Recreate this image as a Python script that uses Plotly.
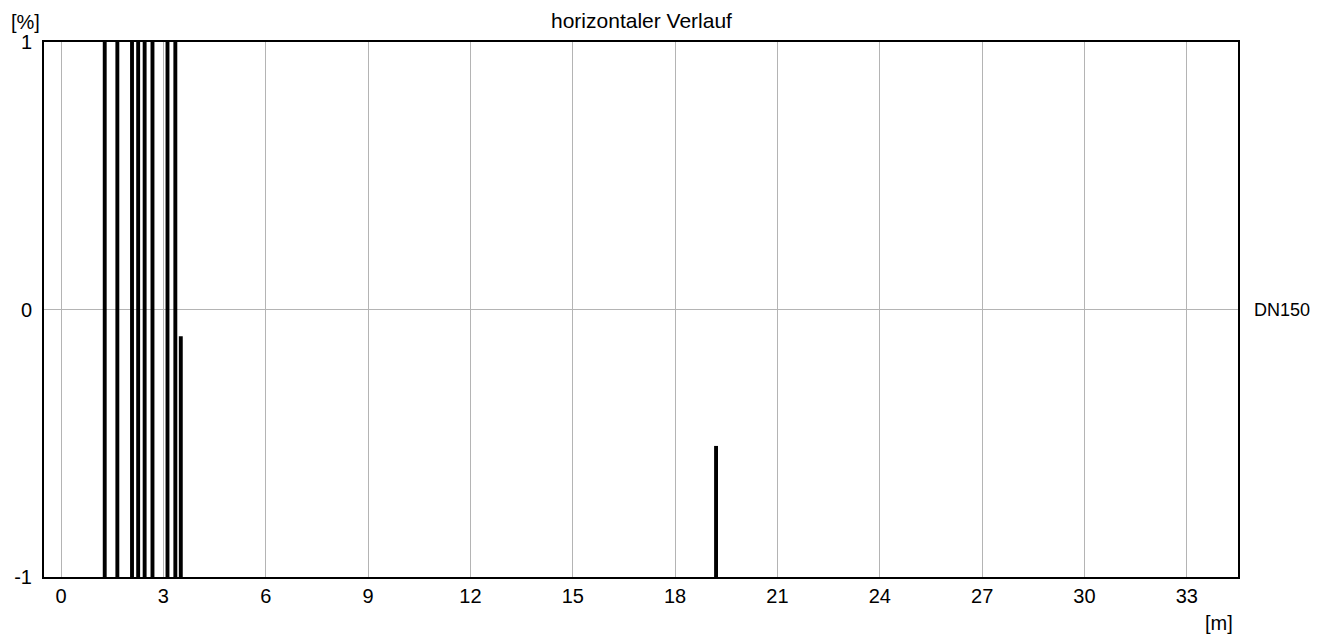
import plotly.graph_objects as go

# Data: positions [m] of the vertical spikes and their top values [%]
spike_x = [1.28, 1.65, 2.08, 2.26, 2.45, 2.68, 3.12, 3.35, 3.51, 19.2]
spike_top = [1.0, 1.0, 1.0, 1.0, 1.0, 1.0, 1.0, 1.0, -0.10, -0.51]
spike_base = -1.0

x_ticks = [0, 3, 6, 9, 12, 15, 18, 21, 24, 27, 30, 33]
y_ticks = [-1, 0, 1]

title_text = "horizontaler Verlauf"
series_label = "DN150"
x_unit = "[m]"
y_unit = "[%]"

xs, ys = [], []
for x, t in zip(spike_x, spike_top):
    xs += [x, x, None]
    ys += [spike_base, t, None]

FONT = "Arial, Liberation Sans, sans-serif"

fig = go.Figure()
fig.add_trace(go.Scatter(x=xs, y=ys, mode="lines",
                         line=dict(color="black", width=3.9),
                         connectgaps=False, hoverinfo="skip",
                         showlegend=False, cliponaxis=True))

fig.update_layout(
    width=1325, height=637,
    margin=dict(l=44, r=87, t=42, b=60),
    paper_bgcolor="white", plot_bgcolor="white",
    font=dict(family=FONT, size=20, color="black"),
    showlegend=False,
)
fig.update_xaxes(range=[-0.5, 34.5], tickvals=x_ticks,
                 ticktext=[str(v) for v in x_ticks],
                 showgrid=True, gridcolor="#b4b4b4", gridwidth=1,
                 zeroline=False, showline=True, linecolor="black",
                 linewidth=2, mirror=True, ticks="",
                 ticklabelstandoff=0,
                 tickfont=dict(size=20))
fig.update_yaxes(range=[-1, 1], tickvals=y_ticks,
                 ticktext=[str(v) for v in y_ticks],
                 showgrid=True, gridcolor="#b4b4b4", gridwidth=1,
                 zeroline=False, showline=True, linecolor="black",
                 linewidth=2, mirror=True, ticks="",
                 ticklabelstandoff=6,
                 tickfont=dict(size=20))

fig.add_annotation(text=title_text, xref="paper", yref="paper",
                   x=0.5, y=1, yshift=22, xanchor="center", yanchor="middle",
                   showarrow=False, font=dict(size=21))
fig.add_annotation(text=series_label, xref="paper", yref="y",
                   x=1, y=0, xshift=14, xanchor="left", yanchor="middle",
                   showarrow=False, font=dict(size=18))
fig.add_annotation(text=x_unit, xref="paper", yref="paper",
                   x=1, y=0, xshift=-19, yshift=-46, xanchor="center",
                   yanchor="middle", showarrow=False, font=dict(size=20))
fig.add_annotation(text=y_unit, xref="paper", yref="paper",
                   x=0, y=1, xshift=-19, yshift=20, xanchor="center",
                   yanchor="middle", showarrow=False, font=dict(size=20))

fig.write_html("out.html",
               config={"displayModeBar": False},
               post_script="document.body.style.margin='0';")
